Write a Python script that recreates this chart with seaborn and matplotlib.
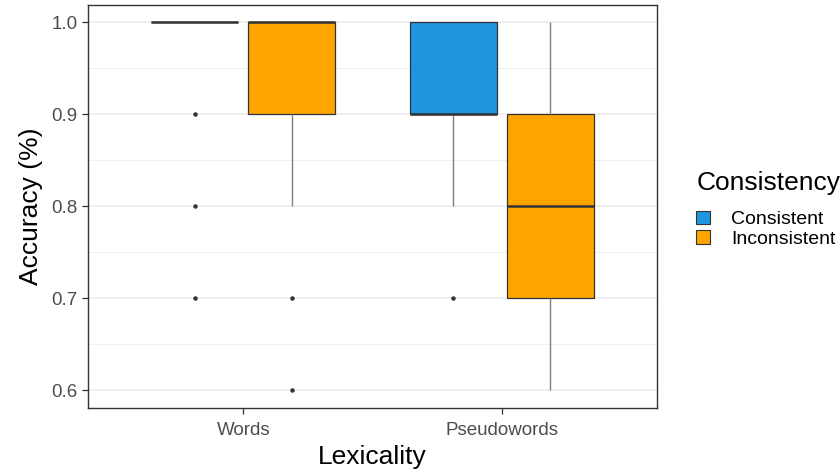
import numpy as np
import pandas as pd
import matplotlib
matplotlib.use('Agg')
import matplotlib.pyplot as plt
from matplotlib.patches import Patch
from matplotlib.ticker import MultipleLocator
import seaborn as sns

# accuracy values per condition
words_consistent = [1.0] * 17 + [0.9, 0.8, 0.7]
words_inconsistent = [1.0] * 11 + [0.9] * 5 + [0.8] * 2 + [0.7, 0.6]
pseudo_consistent = [1.0] * 6 + [0.9] * 10 + [0.8] * 3 + [0.7]
pseudo_inconsistent = [0.6] * 2 + [0.7] * 5 + [0.8] * 6 + [0.9] * 5 + [1.0] * 2

lexicality = ['Words', 'Pseudowords']
consistency = ['Consistent', 'Inconsistent']
colors = ['#1E96DF', '#FFA500']

rows = []
for lex, cons, vals in [('Words', 'Consistent', words_consistent),
                        ('Words', 'Inconsistent', words_inconsistent),
                        ('Pseudowords', 'Consistent', pseudo_consistent),
                        ('Pseudowords', 'Inconsistent', pseudo_inconsistent)]:
    for v in vals:
        rows.append({'Lexicality': lex, 'Consistency': cons, 'Accuracy': v})
df = pd.DataFrame(rows)

plt.rcParams['font.family'] = ['Liberation Sans', 'DejaVu Sans']

fig = plt.figure(figsize=(8.4, 4.73), dpi=100)
ax = fig.add_axes([0.105, 0.137, 0.677, 0.852])

# grid (theme_bw look)
ax.set_axisbelow(True)
ax.yaxis.set_major_locator(MultipleLocator(0.1))
ax.yaxis.set_minor_locator(MultipleLocator(0.05))
ax.grid(which='major', color='#EBEBEB', linewidth=1.1)
ax.grid(which='minor', axis='y', color='#EBEBEB', linewidth=0.55)

sns.boxplot(data=df, x='Lexicality', y='Accuracy', hue='Consistency',
            order=lexicality, hue_order=consistency, palette=colors,
            saturation=1, width=0.75, gap=0.1, linecolor='#333333', linewidth=0.9,
            whiskerprops=dict(color='#7F7F7F', linewidth=1.0),
            capprops=dict(linewidth=0),
            medianprops=dict(color='#333333', linewidth=1.8),
            flierprops=dict(marker='o', markersize=2.2, markerfacecolor='#333333',
                            markeredgecolor='#333333'),
            legend=False, ax=ax)

ax.set_xlim(-0.6, 1.6)
ax.set_ylim(0.5805, 1.0185)
ax.set_yticks([0.6, 0.7, 0.8, 0.9, 1.0])
ax.set_yticklabels(['0.6', '0.7', '0.8', '0.9', '1.0'])
ax.tick_params(axis='both', which='major', labelsize=13.5, labelcolor='#4D4D4D',
               color='#333333', length=4, width=0.9)
ax.tick_params(axis='x', pad=6)
ax.tick_params(axis='y', which='minor', length=0)
ax.set_xlabel('Lexicality', fontsize=19, labelpad=4)
ax.set_ylabel('Accuracy (%)', fontsize=19, labelpad=6)
for s in ax.spines.values():
    s.set_color('#333333')
    s.set_linewidth(1.0)

handles = [Patch(facecolor=c, edgecolor='#333333', linewidth=0.8, label=l)
           for c, l in zip(colors, consistency)]
leg = fig.legend(handles=handles, title='Consistency', loc='upper left',
                 bbox_to_anchor=(0.829, 0.638), frameon=False, fontsize=14,
                 title_fontsize=19, handlelength=0.7, handleheight=0.7,
                 handletextpad=1.1, labelspacing=0.1, borderaxespad=0,
                 borderpad=0)
leg._legend_box.align = 'left'
leg._legend_box.sep = 11

fig.savefig('out.png', dpi=100)
